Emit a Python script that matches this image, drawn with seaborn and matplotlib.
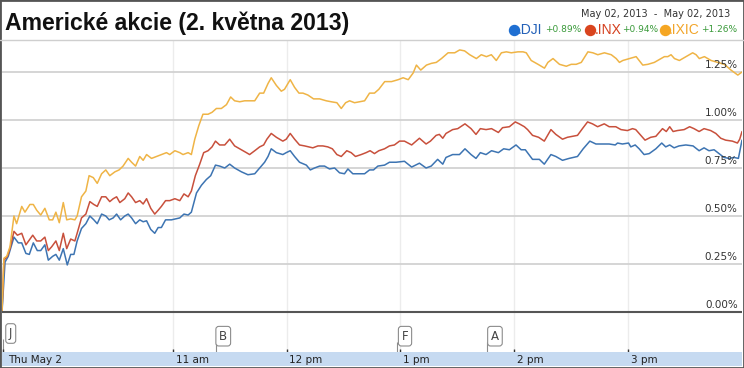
import pandas as pd
import matplotlib
matplotlib.use('Agg')
import matplotlib.pyplot as plt
import matplotlib.transforms as mtransforms
from matplotlib import font_manager
from matplotlib.lines import Line2D
from matplotlib.patches import Rectangle
import seaborn as sns

# Minuty od otevreni burzy (9:30) a zmena v % pro kazdy index
dji_t = [0, 1.6, 3.3, 4.2, 6.3, 8.6, 10.4, 12.6, 14.4, 16.5,
         18.6, 20.4, 22.6, 24.4, 26.7, 28.4, 30.2, 32.3, 34.4, 36.2,
         37.9, 39.6, 41.9, 44.2, 46.3, 48.4, 50.2, 52.5, 54.7, 56.5,
         58.6, 60.4, 62.5, 64.7, 66.5, 68.3, 70.4, 72.6, 74.4, 76.2,
         78.4, 80.5, 82.3, 84.0, 86.2, 89.3, 93.7, 95.9, 98.1, 99.8,
         102.5, 105.1, 107.7, 110.0, 112.5, 114.7, 117.4, 120.0, 122.6, 126.2,
         129.6, 133.2, 135.8, 138.4, 140.2, 141.9, 144.6, 148.0, 149.8, 151.9,
         154.2, 156.8, 160.4, 162.5, 164.7, 167.4, 170.0, 172.6, 175.3, 177.9,
         180.5, 182.3, 184.9, 187.5, 191.1, 193.7, 195.8, 198.1, 201.6, 204.2,
         207.7, 212.1, 215.9, 220.0, 223.5, 226.2, 229.6, 232.3, 234.0, 237.5,
         241.1, 244.0, 247.2, 249.8, 252.1, 255.1, 258.0, 261.6, 264.4, 267.4,
         270.9, 273.6, 275.8, 279.6, 283.2, 285.8, 289.3, 291.9, 295.4, 298.9,
         303.3, 306.3, 309.8, 313.0, 316.5, 320.0, 323.2, 324.4, 327.0, 330.2,
         331.4, 333.7, 335.8, 338.4, 341.1, 344.6, 347.7, 349.8, 351.9, 354.2,
         356.8, 360.4, 364.2, 367.4, 370.0, 372.6, 375.3, 377.9, 380.5, 383.2,
         385.8, 388.1, 389.3, 390.0]
dji_v = [0.0, 0.26, 0.29, 0.32, 0.39, 0.36, 0.36, 0.305, 0.30, 0.36,
         0.32, 0.32, 0.35, 0.27, 0.29, 0.30, 0.27, 0.33, 0.245, 0.30,
         0.30, 0.37, 0.435, 0.46, 0.50, 0.48, 0.46, 0.51, 0.50, 0.48,
         0.49, 0.51, 0.48, 0.50, 0.51, 0.49, 0.46, 0.48, 0.47, 0.475,
         0.43, 0.41, 0.44, 0.44, 0.48, 0.48, 0.49, 0.51, 0.505, 0.52,
         0.62, 0.66, 0.69, 0.71, 0.765, 0.76, 0.75, 0.77, 0.75, 0.73,
         0.715, 0.72, 0.75, 0.78, 0.81, 0.85, 0.83, 0.82, 0.83, 0.84,
         0.81, 0.78, 0.765, 0.74, 0.75, 0.76, 0.76, 0.745, 0.75, 0.725,
         0.72, 0.745, 0.72, 0.72, 0.72, 0.74, 0.74, 0.76, 0.765, 0.78,
         0.78, 0.785, 0.755, 0.775, 0.75, 0.76, 0.795, 0.77, 0.805, 0.82,
         0.82, 0.85, 0.82, 0.80, 0.83, 0.82, 0.84, 0.83, 0.85, 0.845,
         0.87, 0.845, 0.845, 0.795, 0.795, 0.77, 0.82, 0.81, 0.79, 0.80,
         0.81, 0.85, 0.89, 0.875, 0.875, 0.875, 0.87, 0.88, 0.875, 0.88,
         0.86, 0.87, 0.85, 0.82, 0.825, 0.85, 0.88, 0.86, 0.87, 0.855,
         0.865, 0.87, 0.865, 0.84, 0.855, 0.84, 0.845, 0.825, 0.805, 0.80,
         0.805, 0.80, 0.86, 0.895]

inx_t = [0, 1.0, 2.8, 4.2, 6.3, 8.1, 10.4, 12.6, 16.2, 18.3,
         20.4, 22.6, 24.4, 26.2, 28.4, 30.2, 32.3, 34.1, 36.2, 38.4,
         39.6, 41.9, 44.2, 46.3, 48.4, 50.2, 52.5, 54.7, 56.8, 58.6,
         60.4, 62.1, 64.7, 66.5, 68.3, 70.4, 72.6, 74.4, 76.2, 78.4,
         80.5, 82.3, 84.0, 86.2, 88.4, 91.1, 93.7, 95.9, 98.1, 99.8,
         101.9, 104.2, 106.3, 108.6, 110.7, 112.5, 114.7, 117.4, 120.0, 122.6,
         125.3, 128.8, 130.5, 133.2, 135.8, 137.9, 139.6, 141.9, 144.6, 148.0,
         149.8, 151.9, 154.2, 156.8, 159.5, 161.7, 163.8, 166.5, 169.1, 171.7,
         174.1, 176.5, 178.8, 181.7, 184.0, 186.3, 189.3, 191.9, 194.0, 196.3,
         198.6, 201.6, 204.2, 206.8, 209.5, 212.1, 215.9, 220.0, 223.5, 225.8,
         228.8, 230.5, 232.3, 234.0, 237.5, 240.2, 244.0, 247.2, 249.8, 252.1,
         255.1, 258.0, 261.6, 263.8, 267.4, 270.5, 272.6, 275.3, 277.0, 279.6,
         282.8, 285.8, 289.3, 291.9, 295.4, 298.0, 300.7, 303.3, 305.9, 308.6,
         311.2, 313.9, 317.4, 320.0, 323.5, 326.2, 329.6, 332.3, 334.0, 336.7,
         338.9, 341.9, 344.6, 348.1, 350.1, 351.9, 353.7, 355.9, 359.5, 362.4,
         364.7, 367.4, 370.0, 373.5, 376.2, 378.8, 381.4, 384.9, 387.6, 388.8,
         390.0]
inx_v = [0.0, 0.27, 0.29, 0.33, 0.42, 0.40, 0.41, 0.35, 0.40, 0.37,
         0.37, 0.39, 0.32, 0.34, 0.37, 0.32, 0.41, 0.33, 0.38, 0.37,
         0.41, 0.49, 0.51, 0.575, 0.56, 0.55, 0.60, 0.60, 0.575, 0.59,
         0.60, 0.57, 0.59, 0.62, 0.60, 0.57, 0.58, 0.5625, 0.59, 0.54,
         0.51, 0.53, 0.55, 0.58, 0.58, 0.59, 0.58, 0.615, 0.60, 0.63,
         0.71, 0.77, 0.83, 0.84, 0.86, 0.89, 0.87, 0.87, 0.90, 0.865,
         0.85, 0.83, 0.82, 0.84, 0.86, 0.87, 0.90, 0.93, 0.91, 0.89,
         0.90, 0.93, 0.90, 0.87, 0.865, 0.86, 0.855, 0.865, 0.865, 0.86,
         0.85, 0.82, 0.81, 0.84, 0.83, 0.81, 0.82, 0.83, 0.84, 0.825,
         0.84, 0.85, 0.865, 0.87, 0.89, 0.89, 0.87, 0.905, 0.875, 0.89,
         0.92, 0.925, 0.905, 0.93, 0.95, 0.955, 0.98, 0.955, 0.925, 0.955,
         0.95, 0.955, 0.935, 0.96, 0.965, 0.99, 0.98, 0.965, 0.95, 0.92,
         0.91, 0.89, 0.95, 0.925, 0.90, 0.91, 0.915, 0.92, 0.955, 0.99,
         0.98, 0.965, 0.98, 0.965, 0.965, 0.95, 0.945, 0.955, 0.95, 0.92,
         0.895, 0.91, 0.915, 0.955, 0.94, 0.965, 0.94, 0.945, 0.95, 0.965,
         0.955, 0.94, 0.955, 0.945, 0.93, 0.905, 0.895, 0.89, 0.88, 0.90,
         0.94]

ixic_t = [0, 1.0, 2.5, 4.2, 6.3, 7.7, 10.4, 12.1, 14.7, 16.5,
          18.3, 20.4, 22.6, 24.9, 26.7, 28.4, 30.2, 32.3, 34.1, 36.2,
          38.4, 39.6, 41.9, 44.2, 45.9, 48.1, 50.2, 52.5, 54.7, 56.8,
          59.5, 61.7, 63.8, 66.5, 68.3, 70.4, 72.6, 74.4, 76.2, 78.8,
          81.4, 84.0, 86.7, 88.4, 91.1, 93.7, 95.4, 98.1, 99.8, 101.6,
          103.7, 105.9, 108.6, 110.7, 113.0, 115.6, 118.3, 120.5, 122.6, 125.3,
          127.9, 133.2, 135.8, 137.9, 140.2, 141.9, 144.6, 147.2, 148.9, 151.9,
          154.2, 156.5, 158.6, 161.2, 164.2, 167.4, 170.9, 173.5, 176.5, 178.8,
          181.1, 183.2, 185.8, 188.4, 191.1, 193.7, 196.3, 198.6, 201.7, 205.3,
          208.8, 211.4, 214.1, 216.7, 218.4, 220.7, 223.7, 226.3, 228.9, 231.6,
          235.1, 238.6, 241.2, 243.8, 246.5, 250.0, 252.6, 255.3, 257.9, 260.5,
          263.2, 265.8, 268.4, 271.9, 274.6, 276.3, 278.9, 282.5, 285.9, 287.7,
          290.4, 293.8, 297.4, 300.0, 302.6, 305.3, 308.8, 311.4, 314.0, 317.5,
          321.1, 323.7, 325.4, 327.2, 330.7, 334.2, 337.7, 340.4, 343.8, 347.4,
          349.1, 350.9, 352.6, 354.4, 357.0, 360.5, 364.0, 365.8, 367.5, 370.2,
          373.7, 377.2, 380.7, 384.2, 387.8, 390.0]
ixic_v = [0.0, 0.28, 0.29, 0.34, 0.50, 0.46, 0.55, 0.52, 0.56, 0.56,
          0.53, 0.505, 0.54, 0.48, 0.48, 0.52, 0.465, 0.57, 0.48, 0.485,
          0.48, 0.50, 0.60, 0.63, 0.71, 0.70, 0.67, 0.72, 0.74, 0.71,
          0.73, 0.74, 0.76, 0.80, 0.78, 0.76, 0.81, 0.79, 0.82, 0.80,
          0.81, 0.82, 0.83, 0.82, 0.84, 0.83, 0.82, 0.83, 0.82, 0.90,
          0.97, 1.03, 1.03, 1.04, 1.06, 1.06, 1.08, 1.12, 1.10, 1.095,
          1.10, 1.10, 1.14, 1.14, 1.19, 1.22, 1.18, 1.15, 1.16, 1.21,
          1.17, 1.14, 1.14, 1.13, 1.11, 1.11, 1.10, 1.095, 1.09, 1.06,
          1.09, 1.10, 1.09, 1.095, 1.10, 1.14, 1.14, 1.16, 1.20, 1.20,
          1.21, 1.22, 1.21, 1.245, 1.286, 1.26, 1.286, 1.295, 1.30, 1.32,
          1.35, 1.35, 1.365, 1.36, 1.34, 1.32, 1.34, 1.33, 1.34, 1.31,
          1.35, 1.355, 1.35, 1.355, 1.355, 1.35, 1.31, 1.29, 1.27, 1.30,
          1.32, 1.29, 1.28, 1.29, 1.29, 1.30, 1.355, 1.35, 1.34, 1.35,
          1.34, 1.32, 1.30, 1.31, 1.32, 1.33, 1.286, 1.29, 1.30, 1.32,
          1.33, 1.33, 1.34, 1.32, 1.31, 1.33, 1.35, 1.34, 1.32, 1.33,
          1.31, 1.30, 1.29, 1.26, 1.234, 1.25]

symbols = ['.DJI', '.INX', '.IXIC']
changes = ['+0.89%', '+0.94%', '+1.26%']
line_colors = ['#3d74b2', '#c8503c', '#efb446']
dot_colors = ['#1f6fd2', '#d9441e', '#f5a623']
name_colors = ['#2260b8', '#d4401f', '#f2a52a']

y_levels = [0.0, 0.25, 0.5, 0.75, 1.0, 1.25]
hour_ticks = [90, 150, 210, 270, 330]
hour_labels = ['11 am', '12 pm', '1 pm', '2 pm', '3 pm']
flag_letters = ['J', 'B', 'F', 'A']
flag_times = [0.6, 112.6, 208.4, 255.8]

df = pd.concat([
    pd.DataFrame({'minuta': dji_t, 'zmena': dji_v, 'index': '.DJI'}),
    pd.DataFrame({'minuta': inx_t, 'zmena': inx_v, 'index': '.INX'}),
    pd.DataFrame({'minuta': ixic_t, 'zmena': ixic_v, 'index': '.IXIC'}),
])

sns.set_style('white')
plt.rcParams['font.family'] = ['DejaVu Sans']

# Arial-like fonty (bez "Narrow" varianty)
def najdi_font(soubor, zaloha_weight):
    for f in font_manager.fontManager.ttflist:
        if f.fname.endswith(soubor):
            return font_manager.FontProperties(fname=f.fname)
    return font_manager.FontProperties(family='Liberation Sans', weight=zaloha_weight, stretch='normal')

title_font = najdi_font('LiberationSans-Bold.ttf', 'bold')
name_font = najdi_font('LiberationSans-Regular.ttf', 'normal')

W, H = 744, 368
fig = plt.figure(figsize=(W / 100, H / 100), dpi=100)


def fx(px):
    return px / W


def fy(py):
    return 1 - py / H


# hlavni graf (od y=40 px do y=352 px, nula na y=312 px)
ax = fig.add_axes([fx(2), fy(352), 740 / W, 312 / H])
ymin, ymax = -40 / 192, 272 / 192

ax.vlines(hour_ticks, ymin, ymax, color='#ececec', lw=1, zorder=0)
ax.hlines(y_levels[1:], 0, 390, color='#d2d2d2', lw=1.3, zorder=1)

sns.lineplot(data=df, x='minuta', y='zmena', hue='index', palette=dict(zip(symbols, line_colors)),
             estimator=None, sort=False, lw=1.1, legend=False, ax=ax, zorder=2)
ax.set_xlim(0, 390)
ax.set_ylim(ymin, ymax)
ax.axis('off')

ax.hlines(0, 0, 390, color='#555555', lw=1.5, zorder=3)

trans = mtransforms.blended_transform_factory(ax.transAxes, ax.transData)
for lv in y_levels:
    ax.text(0.9942, lv + 0.008, f'{lv:.2f}%', transform=trans, ha='right', va='bottom',
            fontsize=7.5, color='#333333', zorder=4)

# vlajky s udalostmi
for letter, t in zip(flag_letters, flag_times):
    yc = -0.112 if letter == 'J' else -0.126
    ax.text(t + 4.0, yc, letter, ha='center', va='center', fontsize=8.5, color='#444444',
            bbox=dict(boxstyle='round,pad=0.28,rounding_size=0.25', fc='white', ec='#8c8c8c', lw=0.8),
            zorder=4)
    ax.vlines(t, ymin, yc - 0.03, color='#8c8c8c', lw=0.8, zorder=3)

ax.vlines([0.6] + hour_ticks, -37 / 192, ymin, color='#333333', lw=1, zorder=4)

# modry pruh s casovou osou
band = fig.add_axes([fx(2), fy(366), 740 / W, 14 / H])
band.set_facecolor('#c6daf1')
band.set_xlim(0, 390)
band.set_ylim(0, 1)
band.set_xticks([])
band.set_yticks([])
for s in band.spines.values():
    s.set_visible(False)
band.text(3.2, 0.45, 'Thu May 2', ha='left', va='center', fontsize=7.5, color='#222222')
for t, lab in zip(hour_ticks, hour_labels):
    band.text(t + 1.5, 0.45, lab, ha='left', va='center', fontsize=7.5, color='#222222')

# titulek - velikost dorovnana na sirku ~347 px
title = fig.text(fx(5), fy(23), 'Americké akcie (2. května 2013)', ha='left', va='center',
                 fontproperties=title_font, fontsize=15, color='#111111')
fig.canvas.draw()
w = title.get_window_extent().width
title.set_fontsize(15 * 347 / w)

fig.text(fx(730), fy(14), 'May 02, 2013  -  May 02, 2013', ha='right', va='center',
         fontsize=7, color='#333333')

dot_x = [513.5, 590, 664.5]
name_x = [518, 595, 669]
chg_x = [545, 622, 701]
for i in range(3):
    fig.add_artist(Line2D([fx(dot_x[i])], [fy(29.5)], marker='o', markersize=7.2,
                          color=dot_colors[i], transform=fig.transFigure))
    fig.text(fx(name_x[i]), fy(29.5), symbols[i], ha='left', va='center', fontsize=10,
             fontproperties=name_font, color=name_colors[i])
    fig.text(fx(chg_x[i]), fy(29.5), changes[i], ha='left', va='center', fontsize=6.5,
             color='#3a9a3a')

fig.add_artist(Line2D([0, 1], [fy(40), fy(40)], color='#cfcfcf', lw=1, transform=fig.transFigure))
fig.add_artist(Rectangle((0, 0), 1, 1, transform=fig.transFigure, fill=False, ec='#555555', lw=2))

fig.savefig('out.png', dpi=100)
